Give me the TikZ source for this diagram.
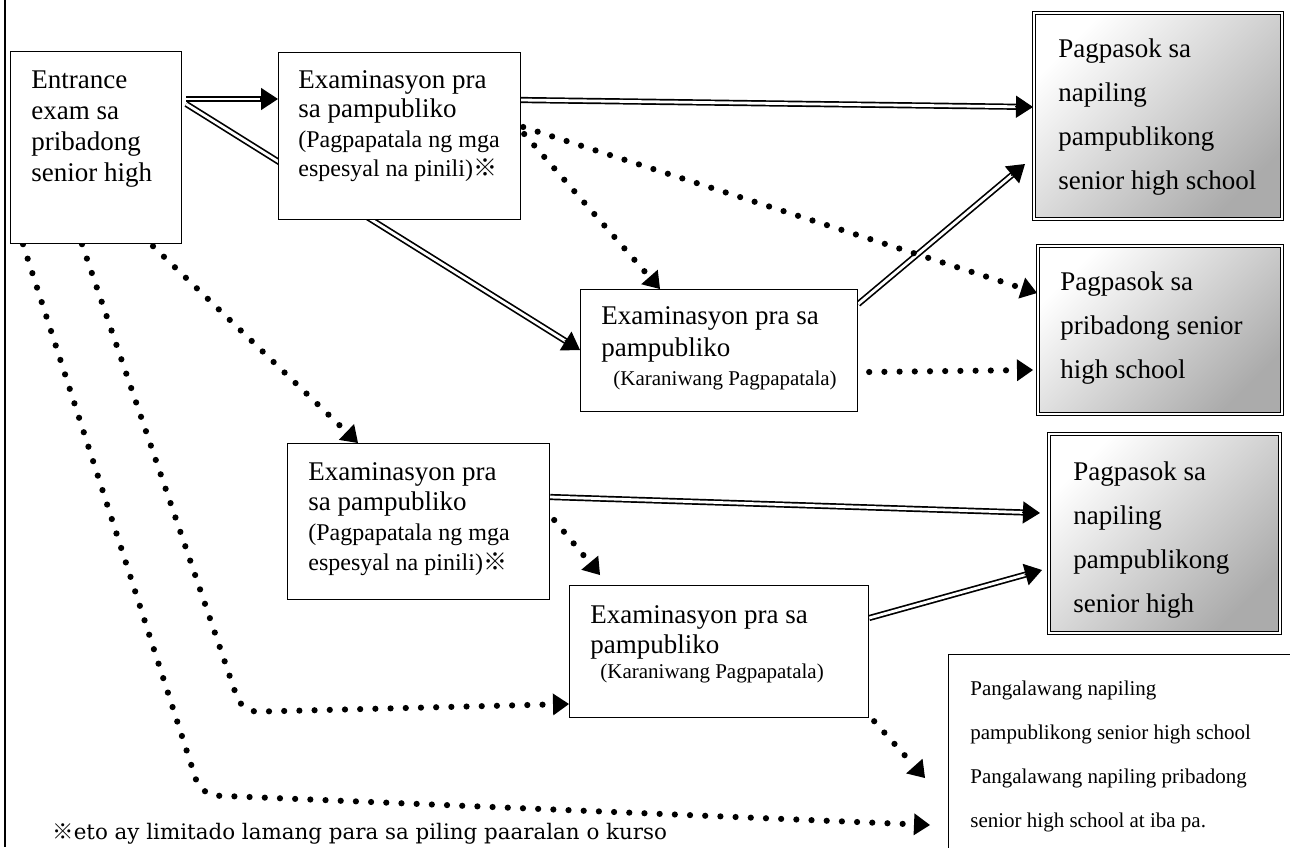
\documentclass[tikz,border=0pt]{standalone}
\usepackage{fontspec}
\setmainfont{Liberation Serif}
\newfontfamily\cjkfont{Noto Sans CJK JP}
\newfontfamily\notefont{DejaVu Serif}
\usetikzlibrary{arrows.meta}
\usetikzlibrary{calc}
\usetikzlibrary{backgrounds}
\usetikzlibrary{positioning}

\newcommand{\kome}{{\cjkfont ※}}
\newcommand{\mainfnt}[1]{\fontsize{13.5}{#1}\selectfont}
\newcommand{\smallfnt}{\fontsize{12}{14}\selectfont}
\newcommand{\karfnt}{\fontsize{10.5}{13}\selectfont}

\tikzset{
    exbox/.style={draw, line width=0.6pt, fill=white, rectangle, anchor=north west, inner sep=0pt},
    gotbox/.style={draw, double, double distance=1pt, line width=0.5pt, rectangle,
        top color=white, bottom color=black!33, shading angle=45, anchor=north west, inner sep=0pt},
    boxtext/.style={anchor=north west, align=left, inner sep=0pt},
    dblline/.style={double, double distance=1.4pt, line width=0.85pt, shorten >=7pt},
    dbltip/.style={line width=0.7pt, -{Triangle[length=8.5pt,width=11pt]}},
    dotline/.style={line width=3.1pt, line cap=round, dash pattern=on 0pt off 7.6pt,
        -{Triangle[length=8pt,width=11pt,line width=0pt]}},
}
\newcommand{\dblarrow}[2]{\draw[dblline] (#1) -- (#2); \draw[dbltip] ($(#2)!9pt!(#1)$) -- (#2);}

\begin{document}
\begin{tikzpicture}[x=0.5pt, y=-0.5pt]
    \useasboundingbox (0,0) rectangle (1290,847);
    \clip (0,0) rectangle (1290,847);

    % margin line
    \draw[line width=0.9pt] (5,0) -- (5,847);

    % exam boxes
    \node[exbox, minimum width=85.5pt, minimum height=96pt] (ent) at (10,51) {};
    \node[boxtext, font=\mainfnt{15.5}] (entT) at ($(ent.north west)+(21,15.3)$)
        {\strut Entrance\\exam sa\\pribadong\\senior high};

    \node[exbox, minimum width=121pt, minimum height=83.5pt] (ex1) at (278,52) {};
    \node[boxtext, font=\mainfnt{14.7}] (ex1T) at ($(ex1.north west)+(20,15.4)$)
        {\strut Examinasyon pra\\sa pampubliko\\{\smallfnt (Pagpapatala ng mga}\\{\smallfnt espesyal na pinili)\kome}};

    \node[exbox, minimum width=138.5pt, minimum height=61pt] (exB1) at (580,289) {};
    \node[boxtext, font=\mainfnt{16}] (exB1T) at ($(exB1.north west)+(21,12.6)$)
        {\strut Examinasyon pra sa\\pampubliko\\[-1.5pt]\hspace*{6pt}{\karfnt (Karaniwang Pagpapatala)}};

    \node[exbox, minimum width=131pt, minimum height=78pt] (exA) at (287,443) {};
    \node[boxtext, font=\mainfnt{15}] (exAT) at ($(exA.north west)+(21,16)$)
        {\strut Examinasyon pra\\sa pampubliko\\{\smallfnt (Pagpapatala ng mga}\\{\smallfnt espesyal na pinili)\kome}};

    \node[exbox, minimum width=149.5pt, minimum height=66pt] (exB2) at (569,585) {};
    \node[boxtext, font=\mainfnt{15}] (exB2T) at ($(exB2.north west)+(21,17)$)
        {\strut Examinasyon pra sa\\pampubliko\\[-2.5pt]\hspace*{5pt}{\karfnt (Karaniwang Pagpapatala)}};

    % school boxes
    \node[gotbox, minimum width=124pt, minimum height=103pt] (pub1) at (1033,12) {};
    \node[boxtext, font=\mainfnt{22}] (pub1T) at ($(pub1.north west)+(25,14.2)$)
        {\strut Pagpasok sa\\napiling\\pampublikong\\senior high school};

    \node[gotbox, minimum width=122pt, minimum height=84pt] (pri) at (1037,245) {};
    \node[boxtext, font=\mainfnt{22}] (priT) at ($(pri.north west)+(23,14.2)$)
        {\strut Pagpasok sa\\pribadong senior\\high school};

    \node[gotbox, minimum width=115.5pt, minimum height=99.5pt] (pub2) at (1048,433) {};
    \node[boxtext, font=\mainfnt{22}] (pub2T) at ($(pub2.north west)+(25,16.2)$)
        {\strut Pagpasok sa\\napiling\\pampublikong\\senior high};

    \node[exbox, minimum width=200pt, minimum height=125pt] (sec) at (948,654) {};
    \node[boxtext, font=\fontsize{10.5}{22}\selectfont] (secT) at ($(sec.north west)+(22,10.2)$)
        {\strut Pangalawang napiling\\pampublikong senior high school\\Pangalawang napiling pribadong\\senior high school at iba pa.};

    % footnote
    \node[anchor=base west, inner sep=0pt, font=\notefont\fontsize{10.7}{13}\selectfont] (note) at (52,839)
        {\kome eto ay limitado lamang para sa piling paaralan o kurso};

    \begin{scope}[on background layer]
        % double arrows
        \coordinate (s1) at ($(ent.north east)+(4,48)$);
        \coordinate (e1) at ($(ex1.north west)+(0,47)$);
        \dblarrow{s1}{e1}
        \coordinate (s2) at ($(ent.north east)+(4,53)$);
        \coordinate (e2) at ($(exB1.north west)+(0,61)$);
        \dblarrow{s2}{e2}
        \coordinate (s3) at ($(ex1.north east)+(0,48)$);
        \coordinate (e3) at ($(pub1.north west)+(0,95)$);
        \dblarrow{s3}{e3}
        \coordinate (s4) at ($(exB1.north east)+(0,15)$);
        \coordinate (e4) at ($(pub1.north west)+(-8,152)$);
        \dblarrow{s4}{e4}
        \coordinate (s5) at ($(exA.north east)+(0,54)$);
        \coordinate (e5) at ($(pub2.north west)+(-8,80)$);
        \dblarrow{s5}{e5}
        \coordinate (s6) at ($(exB2.north east)+(0,33)$);
        \coordinate (e6) at ($(pub2.north west)+(-6,137)$);
        \dblarrow{s6}{e6}

        % dotted arrows
        \draw[dotline] ($(ex1.north east)+(2,75)$) -- ($(pri.north west)+(0,48)$);
        \draw[dotline] ($(ex1.north east)+(3,82)$) -- ($(exB1.north west)+(80,0)$);
        \draw[dotline] ($(exB1.north east)+(11,83)$) -- ($(pri.north west)+(-4,125)$);
        \draw[dotline] ($(ent.south west)+(143,2)$) -- ($(exA.north west)+(71,0)$);
        \draw[dotline] ($(exA.north east)+(4,77)$) -- ($(exB2.north west)+(31,-10)$);
        \draw[dotline] ($(exB2.south east)+(5,3)$) -- ($(sec.north west)+(-23,124)$);
        \coordinate (bend1) at (242,712);
        \coordinate (bend2) at (201,795);
        \draw[dotline, rounded corners=8pt] ($(ent.south west)+(72,0)$) -- (bend1) -- ($(exB2.north west)+(0,119)$);
        \draw[dotline, rounded corners=8pt] ($(ent.south west)+(13,0)$) -- (bend2) -- ($(sec.north west)+(-18,171)$);
    \end{scope}
\end{tikzpicture}
\end{document}
